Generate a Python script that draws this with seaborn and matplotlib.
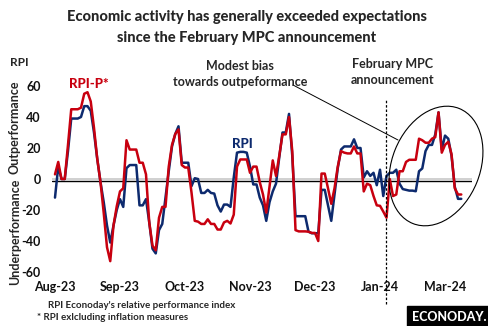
import numpy as np
import pandas as pd
import seaborn as sns
import matplotlib
matplotlib.use("Agg")
import matplotlib.pyplot as plt
from matplotlib.patches import Ellipse
from matplotlib.transforms import IdentityTransform
from matplotlib.lines import Line2D

rpi = [-12, 8, 0, 0, 18, 39, 39, 39, 40, 47, 47, 44, 30, 13, -2, -15, -30, -41, -30, -20,
       -13, -18, 7, 9, 9, 9, -17, -17, -13, -28, -45, -48, -33, -29, -12, 5, 21, 29, 34, 10.5,
       10.5, 10.5, -4.6, 0.5, 0, -9, -9, -7, -9, -9.4, -17, -21, -16.5, -16.5, -18, 1, 17, 17.5, 17.5, 17,
       8, -3.5, -3.5, -12, -17, -27, -15, -8, -3, 14, 30, 30, 42, 15, -24, -24, -24, -24, -34, -35,
       -35, -35, -7, -7, -17, -27, -10, 7, 19, 21, 21, 21, 25.6, 20, 20, 1, 5, 2, 4, -4,
       6, -11, 2, 4, 4, 6, -3, -6.5, -7, -7.5, -7.5, -7.9, 5, 6.8, 18, 22, 22, 28.8, 43, 19,
       28, 26, 15, -5, -12.8, -12.8]
rpi_p = [3, 11, 0, 0, 22, 45, 45, 45, 46, 55, 56, 50, 33, 13, -2, -22, -44, -53, -30, -17.6,
         -8, -6, 25, 19, 19, 19, 10.5, 10.5, 3, -28, -43, -46, -25, -18, -18, 8, 22, 29, 32, 9,
         7.4, 7.4, -8.7, -27, -27.5, -29, -29, -26, -29, -29, -32.6, -32.6, -28, -27, -28.7, -23, 8, 12.6, 12.6, 12.6,
         4, 8, 8, -2, -10, -21.7, -5, 12, 2, 15, 28.8, 28.8, 40, 18, -33, -33.8, -33.8, -33.8, -34, -34.8,
         -34.8, -40, 3.5, 3.5, -6, -16, -6, 8, 18, 17, 16.5, 16.5, 21, 16.5, 16.5, -8, -3, -4, -11, -17,
         -17.3, -21, -25, 0, -11, -10, 5, 5, 11, 12.4, 12.4, 12.4, 26, 25, 23.4, 23.4, 26, 27, 43, 17,
         22, 24, 16, -6, -10, -10]
tick_labels = ["Aug-23", "Sep-23", "Oct-23", "Nov-23", "Dec-23", "Jan-24", "Mar-24"]
tick_pos = [0, 20, 40, 60, 80, 100, 120]
mpc_pos = 101.7

W, H = 489, 326
fig = plt.figure(figsize=(W / 100, H / 100), dpi=100)
sns.set_style("white")
plt.rcParams['font.family'] = ['Lato', 'DejaVu Sans']

def fx(px):
    return px / W

def fy(py):
    return 1 - py / H

ax_left, ax_right, ax_top, ax_bot = 52, 472, 73.6, 279.75
ax = fig.add_axes([fx(ax_left), fy(ax_bot), (ax_right - ax_left) / W, (ax_bot - ax_top) / H])

n = len(rpi)
df = pd.DataFrame({
    "idx": list(range(n)) * 2,
    "value": rpi + rpi_p,
    "series": ["RPI"] * n + ["RPI-P*"] * n,
})
blue, red = "#0d2a6e", "#c8000f"
ax.axhline(0, color="#c8c8c8", lw=1.2, zorder=1)
ax.axhline(-1.6, color="black", lw=1.0, zorder=1)
sns.lineplot(data=df, x="idx", y="value", hue="series", hue_order=["RPI", "RPI-P*"],
             palette=[blue, red], linewidth=1.8, legend=False, ax=ax, zorder=3)
for l in ax.get_lines():
    if l.get_color() == red:
        l.set_zorder(4)

ax.set_xlim(-0.92, 128.3)
ax.set_ylim(-65, 68)
ax.set_yticks([-60, -40, -20, 0, 20, 40, 60])
ax.set_yticklabels(["-60", "-40", "-20", "0", "20", "40", "60"], fontsize=9, fontweight="bold")
ax.set_xticks(tick_pos)
ax.set_xticklabels(tick_labels, fontsize=9, fontweight="bold")
ax.tick_params(axis="y", length=0, pad=8, colors="#111111")
ax.tick_params(axis="x", length=0, pad=1, colors="#111111")
ax.set_xlabel("")
ax.set_ylabel("")
for s in ax.spines.values():
    s.set_visible(False)

# dashed MPC line
ax.add_line(Line2D([mpc_pos, mpc_pos], [-80.5, 51], color="black", lw=0.9,
                   linestyle=(0, (2, 1.5)), clip_on=False, zorder=5))

# texts
fig.text(0.505, fy(17), "Economic activity has generally exceeded expectations", ha="center",
         va="center", fontsize=10.5, fontweight="black")
fig.text(0.505, fy(38), "since the February MPC announcement", ha="center",
         va="center", fontsize=10.5, fontweight="black")
fig.text(fx(10), fy(63), "RPI", ha="left", va="center", fontsize=8.5, fontweight="bold")
fig.text(fx(15), fy(127), "Outperformance", rotation=90, ha="center", va="center",
         fontsize=9, fontweight="bold")
fig.text(fx(15), fy(232), "Underperformance", rotation=90, ha="center", va="center",
         fontsize=9, fontweight="bold")
fig.text(fx(69), fy(84), "RPI-P*", color=red, ha="left", va="center", fontsize=9.5, fontweight="black")
fig.text(fx(232), fy(144), "RPI", color=blue, ha="left", va="center", fontsize=9.5, fontweight="black")
fig.text(fx(240), fy(66), "Modest bias", ha="center", va="center", fontsize=9, fontweight="bold")
fig.text(fx(240), fy(82), "towards outpeformance", ha="center", va="center", fontsize=9, fontweight="bold")
fig.text(fx(393), fy(64), "February MPC", ha="center", va="center", fontsize=9, fontweight="bold")
fig.text(fx(393), fy(80), "announcement", ha="center", va="center", fontsize=9, fontweight="bold")
fig.text(fx(48), fy(306), "RPI Econoday's relative performance index", ha="left", va="center",
         fontsize=7, fontweight="bold")
fig.text(fx(37), fy(317), "* RPI exlcluding inflation measures", ha="left", va="center",
         fontsize=7, fontweight="bold")
fig.text(fx(449), fy(317), "ECONODAY.", ha="center", va="center", fontsize=9, fontweight="black",
         color="white", bbox=dict(boxstyle="square,pad=0.4", fc="black", ec="black"))

# pointer line and ellipse (pixel coordinates)
fig.add_artist(Line2D([fx(293), fx(398)], [fy(85), fy(140)], color="black", lw=0.7,
                      transform=fig.transFigure))
ell = Ellipse((436, H - 166), width=88, height=124, angle=-22, fill=False, ec="black", lw=0.8,
              transform=IdentityTransform())
fig.add_artist(ell)

fig.savefig("out.png", dpi=100)
